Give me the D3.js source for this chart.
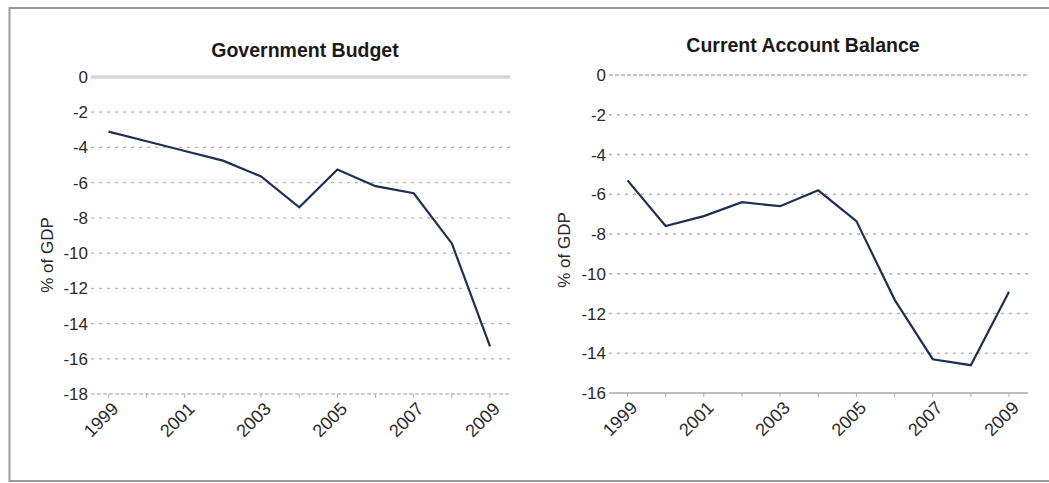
<!DOCTYPE html>
<html>
<head>
<meta charset="utf-8">
<script src="https://d3js.org/d3.v7.min.js"></script>
<style>
	body{ margin:0; background:#fff; }
	svg text{ font-family:"Liberation Sans Narrow", "Arial Narrow", sans-serif; fill:#2a2a2a; }
	.title{ font-family:"Liberation Sans", Arial, sans-serif; font-weight:bold; font-size:19.5px; fill:#1a1a1a; }
</style>
</head>
<body>
<div id="container"></div>
<script>
var years = [1999, 2000, 2001, 2002, 2003, 2004, 2005, 2006, 2007, 2008, 2009]
var yearLabels = [1999, 2001, 2003, 2005, 2007, 2009]

var budget = [-3.1, -3.65, -4.2, -4.75, -5.65, -7.4, -5.25, -6.2, -6.6, -9.45, -15.3]
var budgetTicks = [0, -2, -4, -6, -8, -10, -12, -14, -16, -18]

var currentAccount = [-5.3, -7.6, -7.1, -6.4, -6.6, -5.8, -7.35, -11.3, -14.3, -14.6, -10.9]
var caTicks = [0, -2, -4, -6, -8, -10, -12, -14, -16]

var svg = d3.select('#container').append('svg')
	.attr('width', 1049)
	.attr('height', 483)

// outer frame
svg.append('path')
	.attr('d', 'M1049,8 L9.5,8 L9.5,481 L1049,481')
	.attr('fill', 'none')
	.attr('stroke', '#9a9a9a')
	.attr('stroke-width', 2)

function drawPanel(opt){
	var g = svg.append('g')

	var x = d3.scaleLinear().domain([1999, 2009]).range([opt.x0, opt.x1])
	var y = d3.scaleLinear().domain([0, opt.min]).range([opt.yTop, opt.yBot])

	g.append('text')
		.attr('class', 'title')
		.attr('x', opt.titleX)
		.attr('y', opt.titleY)
		.attr('text-anchor', 'middle')
		.text(opt.title)

	// grid lines
	g.selectAll('.grid').data(opt.ticks.filter(function(d){ return d != 0 && d != opt.min }))
		.enter().append('line')
		.attr('x1', opt.left).attr('x2', opt.right)
		.attr('y1', function(d){ return y(d) }).attr('y2', function(d){ return y(d) })
		.attr('stroke', '#b5b5b5')
		.attr('stroke-width', 1.3)
		.attr('stroke-dasharray', '3,5')

	// zero line
	g.append('line')
		.attr('x1', opt.left).attr('x2', opt.right)
		.attr('y1', y(0)).attr('y2', y(0))
		.attr('stroke', opt.zeroColor)
		.attr('stroke-width', opt.zeroWidth)
		.attr('stroke-dasharray', opt.zeroDash)

	// bottom axis line
	g.append('line')
		.attr('x1', opt.left).attr('x2', opt.right)
		.attr('y1', y(opt.min)).attr('y2', y(opt.min))
		.attr('stroke', opt.baseColor)
		.attr('stroke-width', 1.5)
		.attr('stroke-dasharray', opt.baseDash)

	// year ticks
	g.selectAll('.xt').data(years).enter().append('line')
		.attr('x1', function(d){ return x(d) }).attr('x2', function(d){ return x(d) })
		.attr('y1', y(opt.min)).attr('y2', y(opt.min) + 4)
		.attr('stroke', '#b0b0b0')

	// y labels
	g.selectAll('.yl').data(opt.ticks).enter().append('text')
		.attr('x', opt.left - 3)
		.attr('y', function(d){ return y(d) + 6 })
		.attr('text-anchor', 'end')
		.style('font-size', '17px')
		.text(function(d){ return d })

	// x labels
	g.selectAll('.xl').data(yearLabels).enter().append('text')
		.attr('text-anchor', 'end')
		.attr('transform', function(d){ return 'translate(' + (x(d) + 11) + ',' + (y(opt.min) + 16) + ') rotate(-45)' })
		.style('font-size', '18px')
		.text(function(d){ return d })

	g.append('text')
		.attr('transform', 'translate(' + opt.labelX + ',' + opt.labelY + ') rotate(-90)')
		.attr('text-anchor', 'middle')
		.style('font-size', '17px')
		.text('% of GDP')

	var line = d3.line()
		.x(function(d, i){ return x(years[i]) })
		.y(function(d){ return y(d) })

	g.append('path')
		.datum(opt.values)
		.attr('d', line)
		.attr('fill', 'none')
		.attr('stroke', '#1e2f52')
		.attr('stroke-width', 2.2)
}

drawPanel({
	title: 'Government Budget', titleX: 305, titleY: 57,
	values: budget, ticks: budgetTicks, min: -18,
	x0: 108.5, x1: 490, left: 91, right: 510, yTop: 77, yBot: 394,
	zeroColor: '#d6d6d6', zeroWidth: 3.5, zeroDash: null,
	baseColor: '#c0c0c0', baseDash: '4,2',
	labelX: 53, labelY: 255
})

drawPanel({
	title: 'Current Account Balance', titleX: 803, titleY: 52,
	values: currentAccount, ticks: caTicks, min: -16,
	x0: 627.5, x1: 1009, left: 609, right: 1028, yTop: 75, yBot: 393,
	zeroColor: '#8a8a8a', zeroWidth: 1.2, zeroDash: '4,2',
	baseColor: '#a8a8a8', baseDash: null,
	labelX: 570, labelY: 250
})
</script>
</body>
</html>
